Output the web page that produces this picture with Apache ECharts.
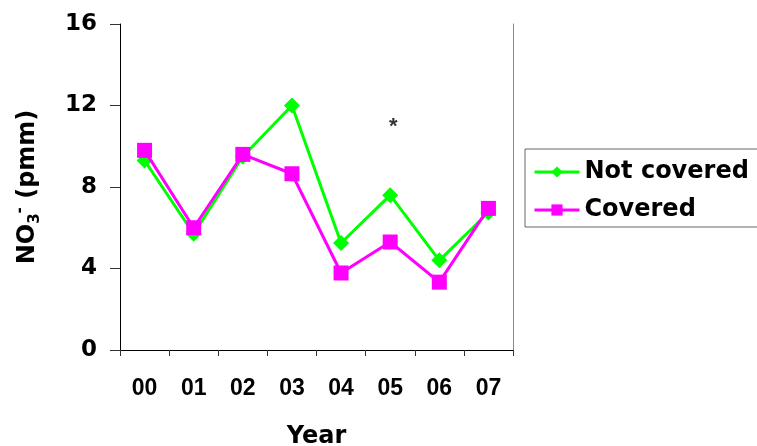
<!DOCTYPE html>
<html><head><meta charset="utf-8">
<script src="https://cdn.jsdelivr.net/npm/echarts@6/dist/echarts.min.js"></script>
<style>html,body{margin:0;padding:0;background:#fff}#c{width:757px;height:446px}</style>
</head><body><div id="c"></div>
<script>
const years = ['00','01','02','03','04','05','06','07'];
const notCovered = [9.3, 5.7, 9.5, 12.0, 5.25, 7.6, 4.4, 6.75];
const covered = [9.8, 6.0, 9.6, 8.65, 3.78, 5.3, 3.33, 6.95];
const yTicks = {min: 0, max: 16, interval: 4};
const starMark = [['05', 11.1]];

const wide = 'DejaVu Sans';
const arial = '"Liberation Sans", Arial, sans-serif';
const chart = echarts.init(document.getElementById('c'), null, {renderer: 'canvas'});
chart.setOption({
  animation: false,
  backgroundColor: '#fff',
  grid: {left: 120, right: 244, top: 24, bottom: 96, containLabel: false, outerBoundsMode: 'none'},
  legend: {
    data: ['Not covered', 'Covered'],
    orient: 'vertical', left: 525, top: 149,
    padding: [11, 12, 5, 8], itemGap: 14,
    itemWidth: 45, itemHeight: 14,
    borderColor: '#666', borderWidth: 1,
    lineStyle: {width: 3},
    textStyle: {fontFamily: wide, fontWeight: 'bold', fontSize: 24, color: '#000'}
  },
  xAxis: [{
    type: 'category', data: years, boundaryGap: true,
    name: 'Year', nameLocation: 'middle', nameGap: 75,
    nameTextStyle: {fontFamily: wide, fontWeight: 'bold', fontSize: 24, color: '#000'},
    axisLine: {lineStyle: {color: '#000', width: 1}},
    axisTick: {show: true, length: 6, lineStyle: {color: '#333'}, alignWithLabel: false},
    axisLabel: {margin: 27, fontFamily: arial, fontWeight: 'bold', fontSize: 23, color: '#000'},
    splitLine: {show: false}
  }, {
    type: 'category', data: years, position: 'top', boundaryGap: true,
    axisLine: {lineStyle: {color: '#000', width: 1}},
    axisTick: {show: false}, axisLabel: {show: false}, splitLine: {show: false}
  }],
  yAxis: [{
    type: 'value', min: yTicks.min, max: yTicks.max, interval: yTicks.interval,
    name: '{n|NO}{sub|3}{sup|-}{n| (pmm)}', nameLocation: 'middle', nameGap: 77, nameRotate: 90,
    nameTextStyle: {
      rich: {
        n: {fontFamily: wide, fontWeight: 'bold', fontSize: 24, color: '#000', lineHeight: 30},
        sub: {fontFamily: wide, fontWeight: 'bold', fontSize: 15, color: '#000', verticalAlign: 'bottom', lineHeight: 30},
        sup: {fontFamily: wide, fontWeight: 'bold', fontSize: 15, color: '#000', verticalAlign: 'top', lineHeight: 30}
      }
    },
    axisLine: {show: true, lineStyle: {color: '#000', width: 1}},
    axisTick: {show: true, length: 10, lineStyle: {color: '#333'}},
    axisLabel: {margin: 23, fontFamily: wide, fontWeight: 'bold', fontSize: 23, color: '#000'},
    splitLine: {show: false}
  }, {
    type: 'value', min: yTicks.min, max: yTicks.max, interval: yTicks.interval, position: 'right',
    axisLine: {show: true, lineStyle: {color: '#888', width: 1}},
    axisTick: {show: false}, axisLabel: {show: false}, splitLine: {show: false}
  }],
  series: [{
    name: 'Not covered', type: 'line', data: notCovered,
    symbol: 'diamond', symbolSize: 16,
    lineStyle: {color: '#00ff00', width: 3},
    itemStyle: {color: '#00ff00'}, z: 2
  }, {
    name: 'Covered', type: 'line', data: covered,
    symbol: 'rect', symbolSize: 15,
    lineStyle: {color: '#ff00ff', width: 3},
    itemStyle: {color: '#ff00ff'}, z: 3
  }, {
    name: 'sig', type: 'scatter', data: starMark,
    symbolSize: 1, itemStyle: {color: 'rgba(0,0,0,0)'},
    label: {show: true, position: 'inside', formatter: '*', offset: [3, 3],
      fontFamily: arial, fontWeight: 'bold', fontSize: 22, color: '#000'},
    silent: true, z: 4
  }]
});
</script></body></html>
